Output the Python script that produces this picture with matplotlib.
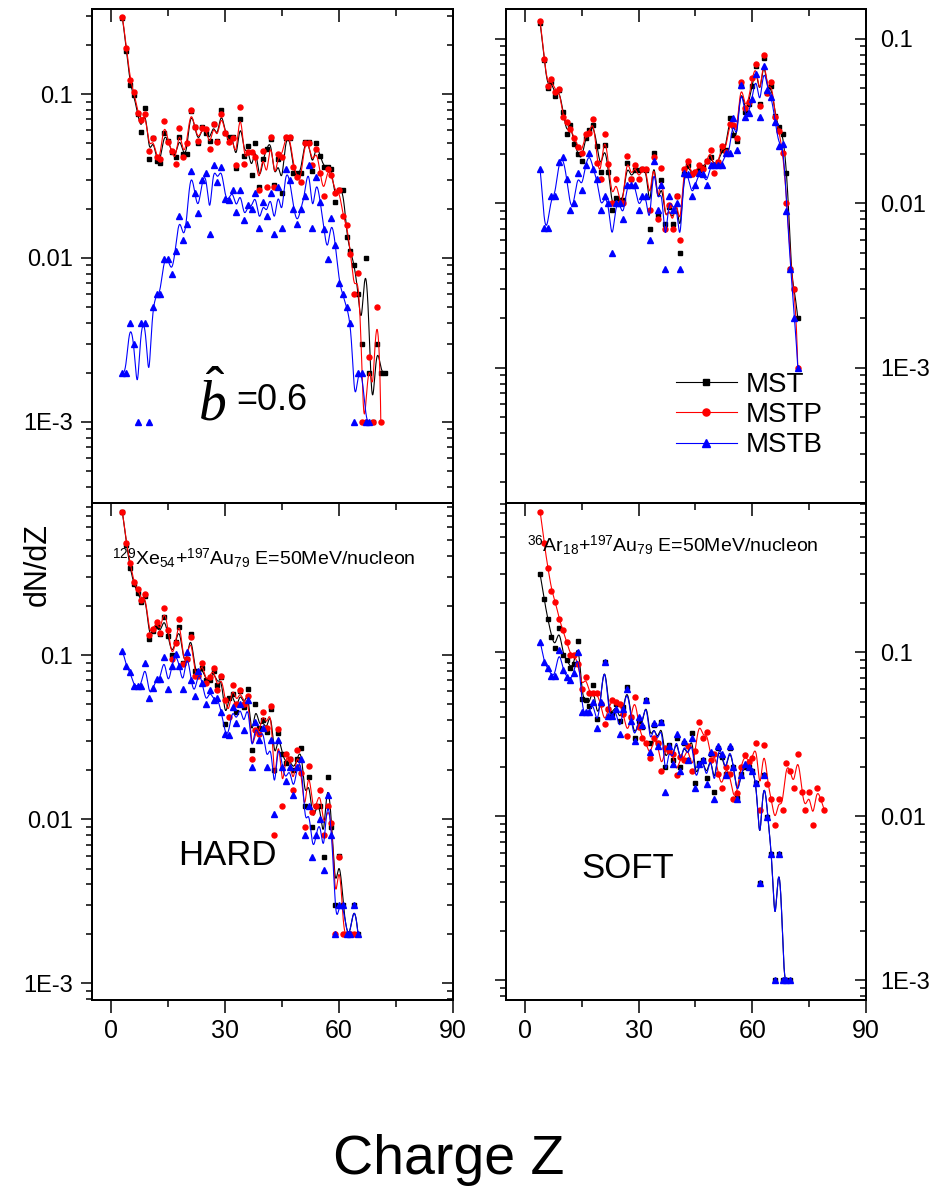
import numpy as np
import matplotlib
matplotlib.use("Agg")
import matplotlib.pyplot as plt
from matplotlib.ticker import LogLocator, FixedLocator, FuncFormatter, NullFormatter
from matplotlib.lines import Line2D

plt.rcParams["font.family"] = ["Liberation Sans", "DejaVu Sans"]
plt.rcParams["mathtext.fontset"] = "custom"
plt.rcParams["mathtext.rm"] = "Liberation Sans"
plt.rcParams["mathtext.it"] = "Liberation Serif:italic"
plt.rcParams["mathtext.bf"] = "Liberation Sans:bold"

# ---- data: dN/dZ per charge Z (first Z given, then one value per integer Z) ----
# top-left: b = 0.6
tl_mst_z0 = 3
tl_mst = [0.29, 0.183, 0.114, 0.098, 0.075, 0.059, 0.082, 0.040, 0.054, 0.039,
          0.038, 0.0575, 0.052, 0.044, 0.041, 0.055, 0.043, 0.043, 0.079, 0.063,
          0.050, 0.063, 0.0575, 0.052, 0.066, 0.052, 0.080, 0.0575, 0.055, 0.055,
          0.0355, 0.070, 0.042, 0.048, 0.032, 0.050, 0.027, 0.040, 0.046, 0.053,
          0.028, 0.040, 0.025, 0.054, 0.054, 0.033, 0.033, 0.033, 0.051, 0.051,
          0.034, 0.050, 0.042, 0.036, 0.036, 0.035, 0.022, 0.026, 0.026, 0.0135,
          0.011, 0.009, 0.006, 0.003, 0.010, 0.002, 0.001, 0.003, 0.002, 0.002]
tl_mstp_z0 = 3
tl_mstp = [0.293, 0.19, 0.122, 0.103, 0.077, 0.069, 0.076, 0.045, 0.054, 0.041,
           0.040, 0.068, 0.051, 0.045, 0.0375, 0.062, 0.0415, 0.050, 0.080, 0.063,
           0.052, 0.062, 0.0615, 0.046, 0.066, 0.051, 0.076, 0.058, 0.051, 0.054,
           0.037, 0.083, 0.0375, 0.044, 0.044, 0.0415, 0.026, 0.045, 0.027, 0.055,
           0.027, 0.043, 0.0415, 0.055, 0.055, 0.036, 0.031, 0.029, 0.050, 0.050,
           0.037, 0.046, 0.033, 0.024, 0.035, 0.032, 0.025, 0.026, 0.018, 0.0159,
           0.0105, 0.006, 0.0081, 0.001, 0.001, 0.0025, 0.001, 0.005, 0.001]
tl_mstb_z0 = 3
tl_mstb = [0.002, 0.002, 0.004, 0.003, 0.001, 0.004, 0.004, 0.001, 0.005, 0.006,
           0.006, 0.0099, 0.0099, 0.008, 0.011, 0.018, 0.0129, 0.0161, 0.034, 0.025,
           0.0187, 0.030, 0.033, 0.014, 0.037, 0.029, 0.036, 0.023, 0.0226, 0.026,
           0.019, 0.026, 0.017, 0.021, 0.020, 0.025, 0.0153, 0.022, 0.018, 0.025,
           0.014, 0.027, 0.0153, 0.035, 0.030, 0.020, 0.016, 0.020, 0.024, 0.037,
           0.0153, 0.031, 0.022, 0.0151, 0.0099, 0.0175, 0.012, 0.007, 0.006, 0.005,
           0.004, 0.001, 0.002, 0.002, 0.001, 0.001]

# top-right
tr_mst_z0 = 4
tr_mst = [0.125, 0.074, 0.050, 0.055, 0.045, 0.049, 0.036, 0.0264, 0.030, 0.023,
          0.020, 0.018, 0.025, 0.028, 0.030, 0.0223, 0.0155, 0.0227, 0.0155, 0.0091,
          0.0108, 0.0105, 0.0105, 0.0175, 0.014, 0.016, 0.016, 0.0162, 0.016, 0.007,
          0.0201, 0.0085, 0.0139, 0.0075, 0.0095, 0.0075, 0.011, 0.005, 0.0150, 0.017,
          0.015, 0.0155, 0.016, 0.0165, 0.018, 0.019, 0.017, 0.0178, 0.021, 0.021,
          0.033, 0.026, 0.024, 0.052, 0.036, 0.040, 0.052, 0.068, 0.040, 0.0766,
          0.047, 0.052, 0.034, 0.029, 0.0264, 0.0152, 0.004, 0.003, 0.002]
tr_mstp_z0 = 4
tr_mstp = [0.128, 0.075, 0.0516, 0.0567, 0.0478, 0.0493, 0.0333, 0.0313, 0.0282, 0.0251,
           0.022, 0.0201, 0.0264, 0.0268, 0.0325, 0.0176, 0.0141, 0.0264, 0.0173, 0.010,
           0.014, 0.010, 0.010, 0.0194, 0.0141, 0.0171, 0.014, 0.0162, 0.0162, 0.0091,
           0.0192, 0.008, 0.0163, 0.007, 0.0098, 0.007, 0.011, 0.006, 0.0161, 0.018,
           0.015, 0.0155, 0.0171, 0.0162, 0.018, 0.0212, 0.0152, 0.0178, 0.0223, 0.0204,
           0.0305, 0.0299, 0.0251, 0.055, 0.0378, 0.0415, 0.0575, 0.0704, 0.039, 0.0795,
           0.0467, 0.055, 0.0333, 0.0275, 0.0201, 0.010, 0.004, 0.003, 0.001]
tr_mstb_z0 = 4
tr_mstb = [0.0161, 0.0071, 0.0071, 0.011, 0.011, 0.0178, 0.0192, 0.014, 0.0091, 0.010,
           0.0152, 0.012, 0.0171, 0.0201, 0.0161, 0.014, 0.0091, 0.011, 0.010, 0.005,
           0.010, 0.010, 0.008, 0.013, 0.013, 0.013, 0.0091, 0.011, 0.011, 0.006,
           0.018, 0.0091, 0.013, 0.004, 0.011, 0.0091, 0.010, 0.004, 0.0152, 0.015,
           0.011, 0.013, 0.0152, 0.015, 0.013, 0.0171, 0.0171, 0.0171, 0.0171, 0.0201,
           0.0201, 0.0328, 0.0212, 0.0525, 0.0333, 0.0353, 0.043, 0.061, 0.0335, 0.0686,
           0.049, 0.0445, 0.0311, 0.0224, 0.023, 0.009, 0.004, 0.002, 0.001]

# bottom-left: HARD, Xe + Au
bl_mst_z0 = 3
bl_mst = [0.74, 0.47, 0.34, 0.27, 0.24, 0.21, 0.23, 0.125, 0.14, 0.15,
          0.135, 0.17, 0.13, 0.10, 0.12, 0.148, 0.09, 0.095, 0.135, 0.08,
          0.077, 0.083, 0.07, 0.07, 0.08, 0.066, 0.074, 0.038, 0.055, 0.058,
          0.045, 0.06, 0.048, 0.062, 0.0263, 0.05, 0.036, 0.04, 0.034, 0.047,
          0.02, 0.0333, 0.025, 0.022, 0.0231, 0.02, 0.0231, 0.0273, 0.012, 0.018,
          0.009, 0.012, 0.012, 0.0059, 0.018, 0.009, 0.003, 0.006, 0.003, 0.002,
          0.002, 0.003, 0.002]
bl_mstp_z0 = 3
bl_mstp = [0.741, 0.48, 0.366, 0.277, 0.251, 0.216, 0.234, 0.132, 0.145, 0.158,
           0.137, 0.193, 0.142, 0.094, 0.118, 0.166, 0.088, 0.095, 0.129, 0.075,
           0.075, 0.09, 0.068, 0.074, 0.083, 0.061, 0.075, 0.053, 0.042, 0.066,
           0.05, 0.061, 0.05, 0.056, 0.0231, 0.035, 0.033, 0.045, 0.036, 0.049,
           0.008, 0.0352, 0.012, 0.025, 0.0231, 0.015, 0.0263, 0.019, 0.009, 0.021,
           0.011, 0.012, 0.015, 0.008, 0.012, 0.0095, 0.002, 0.0059, 0.002, 0.002,
           0.002, 0.002]
bl_mstb_z0 = 3
bl_mstb = [0.106, 0.086, 0.079, 0.065, 0.065, 0.065, 0.089, 0.055, 0.063, 0.071,
           0.071, 0.098, 0.062, 0.086, 0.102, 0.086, 0.062, 0.105, 0.07, 0.056,
           0.08, 0.068, 0.05, 0.061, 0.053, 0.055, 0.045, 0.033, 0.0325, 0.048,
           0.0383, 0.05, 0.035, 0.053, 0.0209, 0.039, 0.0303, 0.036, 0.0209, 0.0303,
           0.0108, 0.0303, 0.0209, 0.017, 0.0209, 0.014, 0.0209, 0.0231, 0.008, 0.012,
           0.0059, 0.008, 0.01, 0.0049, 0.014, 0.008, 0.002, 0.003, 0.003, 0.002,
           0.002, 0.003, 0.002]

# bottom-right: SOFT, Ar + Au
br_mst_z0 = 4
br_mst = [0.298, 0.21, 0.159, 0.124, 0.106, 0.14, 0.096, 0.09, 0.08, 0.085,
          0.117, 0.052, 0.051, 0.047, 0.063, 0.039, 0.048, 0.087, 0.045, 0.042,
          0.048, 0.038, 0.046, 0.061, 0.04, 0.03, 0.038, 0.035, 0.0514, 0.0278,
          0.036, 0.028, 0.0376, 0.02, 0.027, 0.022, 0.03, 0.02, 0.028, 0.022,
          0.0323, 0.016, 0.021, 0.022, 0.017, 0.024, 0.014, 0.026, 0.023, 0.018,
          0.026, 0.02, 0.013, 0.018, 0.02, 0.02, 0.019, 0.0159, 0.0039, 0.0178,
          0.0099, 0.0059, 0.001, 0.0059, 0.001, 0.001, 0.001]
br_mstp_z0 = 4
br_mstp = [0.718, 0.46, 0.327, 0.237, 0.203, 0.159, 0.136, 0.115, 0.096, 0.096,
           0.085, 0.06, 0.071, 0.056, 0.056, 0.056, 0.048, 0.0364, 0.045, 0.051,
           0.05, 0.048, 0.042, 0.031, 0.04, 0.053, 0.035, 0.03, 0.028, 0.0228,
           0.03, 0.028, 0.0188, 0.026, 0.025, 0.024, 0.0178, 0.023, 0.022, 0.0267,
           0.0188, 0.025, 0.0376, 0.03, 0.0327, 0.022, 0.0241, 0.018, 0.0148, 0.02,
           0.018, 0.0127, 0.0138, 0.02, 0.0236, 0.0215, 0.0225, 0.0278, 0.0109, 0.027,
           0.0158, 0.0127, 0.0088, 0.0127, 0.0109, 0.021, 0.019, 0.0148, 0.0238, 0.014,
           0.0109, 0.014, 0.0089, 0.0148, 0.0128, 0.0109]
br_mstb_z0 = 4
br_mstb = [0.116, 0.087, 0.08, 0.072, 0.072, 0.103, 0.078, 0.071, 0.068, 0.075,
           0.1, 0.043, 0.043, 0.043, 0.05, 0.0343, 0.05, 0.087, 0.041, 0.041,
           0.045, 0.0317, 0.045, 0.06, 0.038, 0.0288, 0.04, 0.036, 0.051, 0.0247,
           0.037, 0.0267, 0.0376, 0.014, 0.0267, 0.0208, 0.0317, 0.019, 0.0288, 0.022,
           0.03, 0.0148, 0.0208, 0.022, 0.0158, 0.0247, 0.0127, 0.0267, 0.024, 0.0178,
           0.0267, 0.02, 0.0127, 0.0178, 0.0208, 0.02, 0.019, 0.016, 0.0039, 0.0178,
           0.0099, 0.0059, 0.001, 0.0059, 0.001, 0.001, 0.001]

series_names = ["MST", "MSTP", "MSTB"]
series_colors = ["black", "red", "blue"]
series_markers = ["s", "o", "^"]
series_ms = [2.8, 3.6, 4.2]

y_tick_text = {0.1: "0.1", 0.01: "0.01", 0.001: "1E-3"}


def bspline(x, y, n=24):
    # uniform cubic B-spline through the points as control polygon (Origin-like)
    px = np.r_[x[0], x[0], x, x[-1], x[-1]]
    py = np.r_[y[0], y[0], y, y[-1], y[-1]]
    t = np.linspace(0, 1, n, endpoint=False)
    b0 = (1 - t) ** 3 / 6
    b1 = (3 * t ** 3 - 6 * t ** 2 + 4) / 6
    b2 = (-3 * t ** 3 + 3 * t ** 2 + 3 * t + 1) / 6
    b3 = t ** 3 / 6
    xs, ys = [], []
    for i in range(len(px) - 3):
        xs.append(b0 * px[i] + b1 * px[i + 1] + b2 * px[i + 2] + b3 * px[i + 3])
        ys.append(b0 * py[i] + b1 * py[i + 1] + b2 * py[i + 2] + b3 * py[i + 3])
    return np.concatenate(xs + [[x[-1]]]), np.concatenate(ys + [[y[-1]]])


def style_panel(ax, ylim, left_labels, bottom_labels):
    ax.set_xlim(-5, 90)
    ax.set_yscale("log")
    ax.set_ylim(*ylim)
    fmt = FuncFormatter(lambda v, p: y_tick_text.get(round(v, 6), ""))
    for a in (ax,):
        a.xaxis.set_major_locator(FixedLocator([0, 30, 60, 90]))
        a.xaxis.set_minor_locator(FixedLocator([15, 45, 75]))
    ax.yaxis.set_major_locator(LogLocator(base=10))
    ax.yaxis.set_minor_locator(LogLocator(base=10, subs=np.arange(2, 10)))
    ax.yaxis.set_major_formatter(fmt)
    ax.yaxis.set_minor_formatter(NullFormatter())
    ax.tick_params(axis="both", which="both", direction="out", width=1.1,
                   top=False, right=False, labelleft=left_labels,
                   labelbottom=bottom_labels)
    ax.tick_params(axis="x", which="major", length=9, labelsize=18, pad=5)
    ax.tick_params(axis="x", which="minor", length=5)
    ax.tick_params(axis="y", which="major", length=8, labelsize=17, pad=6)
    ax.tick_params(axis="y", which="minor", length=4)
    for s in ax.spines.values():
        s.set_linewidth(1.2)

    # right spine: inward ticks, labels only on the right-hand panels
    axr = ax.twinx()
    axr.set_yscale("log")
    axr.set_ylim(*ylim)
    axr.yaxis.set_major_locator(LogLocator(base=10))
    axr.yaxis.set_minor_locator(LogLocator(base=10, subs=np.arange(2, 10)))
    axr.yaxis.set_major_formatter(fmt)
    axr.yaxis.set_minor_formatter(NullFormatter())
    axr.tick_params(axis="y", which="both", direction="in", width=1.1,
                    labelright=not left_labels, labelsize=17, pad=10)
    axr.tick_params(axis="y", which="major", length=8)
    axr.tick_params(axis="y", which="minor", length=4)

    # top spine: inward ticks, no labels
    axt = ax.twiny()
    axt.set_xlim(-5, 90)
    axt.xaxis.set_major_locator(FixedLocator([0, 30, 60, 90]))
    axt.xaxis.set_minor_locator(FixedLocator([15, 45, 75]))
    axt.tick_params(axis="x", which="both", direction="in", width=1.1,
                    labeltop=False)
    axt.tick_params(axis="x", which="major", length=9)
    axt.tick_params(axis="x", which="minor", length=5)
    for s in list(axr.spines.values()) + list(axt.spines.values()):
        s.set_linewidth(1.2)


def draw_series(ax, z0, values, k):
    z = np.arange(z0, z0 + len(values))
    v = np.array(values)
    xs, ys = bspline(z, v)
    ax.plot(xs, ys, color=series_colors[k], lw=0.8)
    ax.plot(z, v, ls="none", marker=series_markers[k], ms=series_ms[k],
            color=series_colors[k], mec=series_colors[k])


fig = plt.figure(figsize=(9.49, 11.94), dpi=100)
W, H = 949.0, 1194.0
ax_tl = fig.add_axes([92 / W, 1 - 503 / H, 361 / W, 494 / H])
ax_tr = fig.add_axes([506 / W, 1 - 503 / H, 360 / W, 494 / H])
ax_bl = fig.add_axes([92 / W, 1 - 1000 / H, 361 / W, 497 / H])
ax_br = fig.add_axes([506 / W, 1 - 1000 / H, 360 / W, 497 / H])

panels = [
    (ax_tl, (3.2e-4, 0.33), True, False,
     [(tl_mst_z0, tl_mst), (tl_mstp_z0, tl_mstp), (tl_mstb_z0, tl_mstb)]),
    (ax_tr, (1.5e-4, 0.152), False, False,
     [(tr_mst_z0, tr_mst), (tr_mstp_z0, tr_mstp), (tr_mstb_z0, tr_mstb)]),
    (ax_bl, (7.9e-4, 0.845), True, True,
     [(bl_mst_z0, bl_mst), (bl_mstp_z0, bl_mstp), (bl_mstb_z0, bl_mstb)]),
    (ax_br, (7.6e-4, 0.81), False, True,
     [(br_mst_z0, br_mst), (br_mstp_z0, br_mstp), (br_mstb_z0, br_mstb)]),
]

for ax, ylim, lft, bot, data in panels:
    for k, (z0, vals) in enumerate(data):
        draw_series(ax, z0, vals, k)
    style_panel(ax, ylim, lft, bot)

# annotations
ax_tl.text(26.5, 1.3e-3, r"$\hat{b}$", fontsize=40, ha="center", va="center")
ax_tl.text(33.0, 1.35e-3, "=0.6", fontsize=26, ha="left", va="center")
ax_bl.text(30.5, 6.0e-3, "HARD", fontsize=25, ha="center", va="center")
ax_br.text(27.0, 4.8e-3, "SOFT", fontsize=25, ha="center", va="center")
ax_bl.text(0.055, 0.889, r"$^{129}$Xe$_{54}$+$^{197}$Au$_{79}$ E=50MeV/nucleon",
           transform=ax_bl.transAxes, fontsize=14, ha="left", va="center")
ax_br.text(0.058, 0.915, r"$^{36}$Ar$_{18}$+$^{197}$Au$_{79}$ E=50MeV/nucleon",
           transform=ax_br.transAxes, fontsize=14, ha="left", va="center")

handles = [Line2D([], [], color=c, lw=0.8, marker=m, ms=ms + 1.5, mec=c)
           for c, m, ms in zip(series_colors, series_markers, series_ms)]
ax_tr.legend(handles, series_names, loc="center left",
             bbox_to_anchor=(0.472, 0.178), frameon=False, fontsize=20,
             handlelength=2.2, handletextpad=0.3, labelspacing=0.15,
             borderpad=0, borderaxespad=0)

fig.text(38 / W, 1 - 565 / H, "dN/dZ", rotation=90, fontsize=22,
         ha="center", va="center")
fig.text(449 / W, 1 - 1160 / H, "Charge Z", fontsize=40,
         ha="center", va="center")

fig.savefig("out.png", dpi=100)
